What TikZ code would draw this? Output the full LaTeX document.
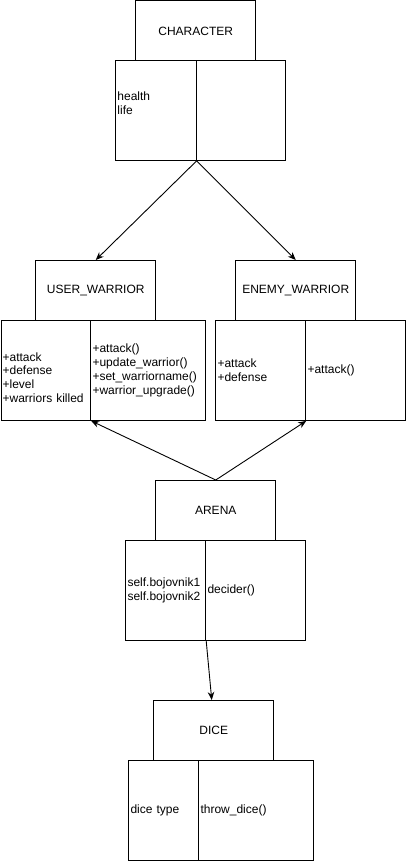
\documentclass[tikz,border=0pt]{standalone}
\usepackage{fontspec}
\setmainfont{Liberation Sans}
\usetikzlibrary{arrows.meta}
\begin{document}
\begin{tikzpicture}[x=1pt,y=-1pt,
  every node/.style={font=\fontsize{12}{13.8}\selectfont},
  box/.style={draw, line width=0.9pt, rectangle, inner sep=0pt, anchor=north west},
  title/.style={box, align=center},
  cell/.style={box, align=left, inner xsep=1.5pt},
  conn/.style={line width=0.9pt, -{Stealth[length=8pt,width=6.5pt]}}]
\useasboundingbox (0,0) rectangle (406,861);
% CHARACTER
\node[title, minimum width=120, minimum height=60] (chT) at (135.3,0.5) {CHARACTER};
\node[cell, minimum width=80.4, minimum height=100, text width=77] (chL) at (115.3,60) {health\\life\\\mbox{}};
\node[cell, minimum width=89.6, minimum height=100, text width=86] (chR) at (195.7,60) {};
% USER_WARRIOR
\node[title, minimum width=120, minimum height=60] (uwT) at (35.3,260) {USER\_WARRIOR};
\node[cell, minimum width=89.8, minimum height=100, text width=86.5] (uwL) at (0.5,320) {\rule{0pt}{9pt}\\+attack\\+defense\\+level\\+warriors killed};
\node[cell, minimum width=115, minimum height=100, text width=111.5] (uwR) at (90.3,320) {+attack()\\+update\_warrior()\\+set\_warriorname()\\+warrior\_upgrade()};
% ENEMY_WARRIOR
\node[title, minimum width=120, minimum height=60] (ewT) at (235.3,260) {ENEMY\_WARRIOR};
\node[cell, minimum width=90, minimum height=100, text width=86.5] (ewL) at (215.3,320) {+attack\\+defense};
\node[cell, minimum width=100, minimum height=100, text width=96.5] (ewR) at (305.3,320) {+attack()};
% ARENA
\node[title, minimum width=120, minimum height=60] (arT) at (155.3,480) {ARENA};
\node[cell, minimum width=80, minimum height=100, text width=76.5] (arL) at (125.3,540) {self.bojovnik1\\self.bojovnik2};
\node[cell, minimum width=100, minimum height=100, text width=96.5] (arR) at (205.3,540) {decider()};
% DICE
\node[title, minimum width=120, minimum height=60] (diT) at (153.3,700) {DICE};
\node[cell, minimum width=70, minimum height=100, text width=66.5] (diL) at (128.3,760) {dice type};
\node[cell, minimum width=115, minimum height=100, text width=111.5] (diR) at (198.3,760) {throw\_dice()};
% connectors
\draw[conn] (chL.south east) -- (uwT.north);
\draw[conn] (chL.south east) -- (ewT.north);
\draw[conn] (arT.north) -- (uwL.south east);
\draw[conn] (arT.north) -- (ewL.south east);
\draw[conn] (arL.south east) -- ([xshift=-2pt]diT.north);
\end{tikzpicture}
\end{document}
